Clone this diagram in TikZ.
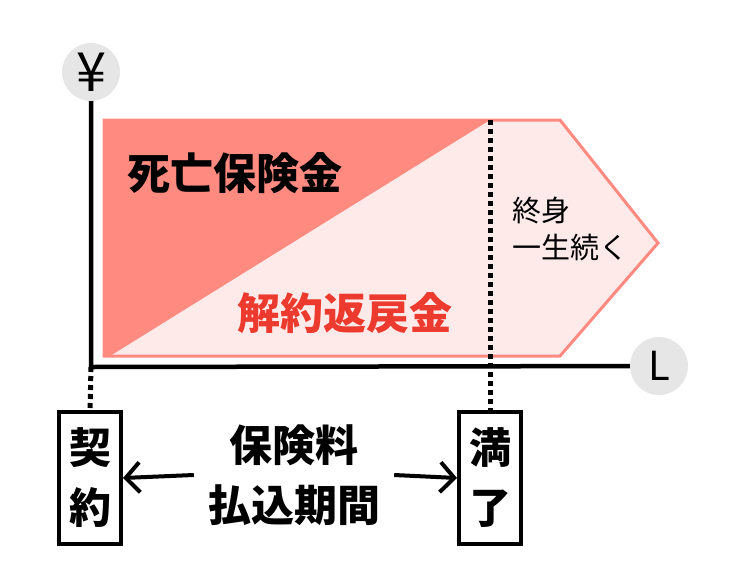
\documentclass[tikz,border=0pt]{standalone}
\usepackage{fontspec}
\newfontfamily\jp{Noto Sans CJK JP}
\usetikzlibrary{arrows.meta,positioning}
\definecolor{salmon}{RGB}{255,138,128}
\definecolor{blush}{RGB}{255,234,234}
\definecolor{redtext}{RGB}{236,58,46}
\definecolor{iconbg}{RGB}{230,230,230}

\begin{document}
\begin{tikzpicture}[x=1pt, y=-1pt,
    axis/.style={line width=4.5pt},
    icon/.style={circle, fill=iconbg, minimum size=58pt, inner sep=0pt, font=\jp\fontsize{40}{40}\selectfont},
    datebox/.style={draw, line width=4pt, minimum width=62pt, minimum height=132pt, align=center, font=\jp\bfseries\fontsize{42}{60}\selectfont},
    big/.style={font=\jp\bfseries\fontsize{43}{60}\selectfont, inner sep=0pt},
    dots/.style={line width=5pt, dash pattern=on 5pt off 4pt},
    arr/.style={-{Straight Barb[length=14pt, width=30pt]}, line width=4pt}
]
\useasboundingbox (0,0) rectangle (750,587);

% coverage areas
\draw[salmon, line width=3pt, fill=blush] (104,120) -- (560,120) -- (658,243) -- (560,356) -- (104,356) -- cycle;
\fill[salmon] (104,120) -- (490,120) -- (110,356) -- (104,356) -- cycle;

\node[big] (death) at (235,173) {死亡保険金};
\node[big, text=redtext] (refund) at (345,313) {解約返戻金};
\node[font=\jp\fontsize{29}{37}\selectfont, align=left, inner sep=0pt, anchor=west] (life) at (512,229) {終身\\一生続く};

% axes
\coordinate (origin) at (91,367);
\coordinate (paytop) at (490,120);
\node[icon, font=\jp\fontsize{54}{54}\selectfont] (yen) at (91,72) {¥};
\node[icon] (clock) at (659,366) {L};
\draw[axis] (yen) -- (origin) -- (clock);

% contract period
\node[datebox] (keiyaku) at (90,478) {契\\約};
\node[datebox] (manryo) at (490,478) {満\\了};
\node[big, align=center, inner xsep=14pt] (kikan) at (294,475) {保険料\\払込期間};

\draw[dots] (origin) -- (keiyaku.north);
\draw[dots] (paytop) -- (manryo.north);
\draw[arr] (kikan.west) -- (keiyaku.east);
\draw[arr] (kikan.east) -- (manryo.west);
\end{tikzpicture}
\end{document}
